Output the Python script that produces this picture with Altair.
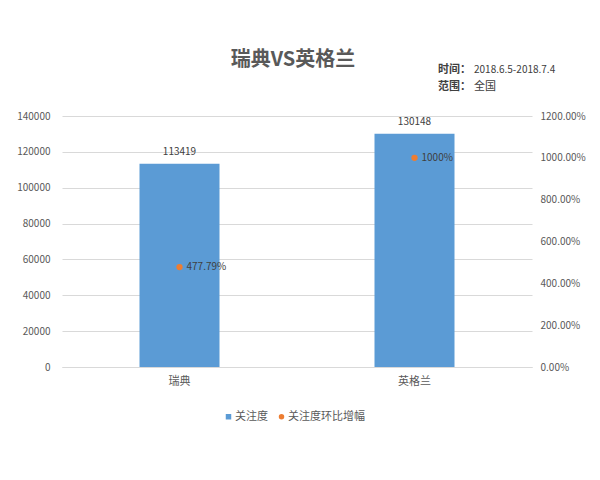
import altair as alt
import pandas as pd

countries = ["瑞典", "英格兰"]
attention = [113419, 130148]
growth = [4.7779, 10.0]
growth_labels = ["477.79%", "1000%"]
series_names = ["关注度", "关注度环比增幅"]

FONT = "Noto Sans CJK SC"
GRAY = "#595959"
BLUE = "#5B9BD5"
ORANGE = "#ED7D31"

df = pd.DataFrame({
    "country": countries,
    "value": attention,
    "pct": growth,
    "pct_label": growth_labels,
    "series": [series_names[1]] * len(countries),
})

x_enc = alt.X(
    "country:N", sort=countries, title=None,
    scale=alt.Scale(paddingInner=0, paddingOuter=0),
    axis=alt.Axis(labelAngle=0, ticks=False, domainColor="#D9D9D9", labelPadding=8,
                  labelFontSize=11, labelColor=GRAY, labelFont=FONT),
)

y_left = alt.Y(
    "value:Q", title=None,
    scale=alt.Scale(domain=[0, 140000]),
    axis=alt.Axis(values=list(range(0, 140001, 20000)), format="d", ticks=False, domain=False,
                  gridColor="#D9D9D9", labelPadding=12, labelFontSize=10,
                  labelColor=GRAY, labelFont=FONT),
)

base = alt.Chart(df)

bars = base.mark_bar(size=80, color=BLUE).encode(x=x_enc, y=y_left)
bar_text = base.mark_text(dy=-12, fontSize=10, font=FONT, color="#404040").encode(
    x=x_enc, y=y_left, text=alt.Text("value:Q", format="d"))

left_layer = alt.layer(bars, bar_text)

y_right = alt.Y(
    "pct:Q", title=None,
    scale=alt.Scale(domain=[0, 12]),
    axis=alt.Axis(orient="right", values=[0, 2, 4, 6, 8, 10, 12], format=".2%", ticks=False,
                  domain=False, grid=False, labelPadding=8, labelFontSize=10,
                  labelColor=GRAY, labelFont=FONT),
)

points = base.mark_point(filled=True, opacity=1, size=40).encode(
    x=x_enc, y=y_right,
    color=alt.Color("series:N", scale=alt.Scale(domain=series_names, range=[BLUE, ORANGE]),
                    legend=alt.Legend(title=None, orient="none", direction="horizontal",
                                      legendX=161, legendY=295, labelFont=FONT,
                                      labelFontSize=11, labelColor=GRAY, symbolSize=30,
                                      columnPadding=8, labelOffset=1)),
    shape=alt.Shape("series:N", scale=alt.Scale(domain=series_names, range=["square", "circle"])),
)
point_text = base.mark_text(align="left", dx=7, fontSize=10, font=FONT, color="#404040").encode(
    x=x_enc, y=y_right, text="pct_label:N")

right_layer = alt.layer(points, point_text)

ann = alt.Chart(pd.DataFrame({"a": [0]}))
title = ann.mark_text(text="瑞典VS英格兰", fontSize=20, fontWeight="bold", font=FONT,
                      color=GRAY, align="center", baseline="middle").encode(
    x=alt.value(231), y=alt.value(-56))
t1 = ann.mark_text(text="时间：", fontSize=11, fontWeight="bold", font=FONT, color="#404040",
                   align="left", baseline="middle").encode(x=alt.value(376), y=alt.value(-46))
t2 = ann.mark_text(text="2018.6.5-2018.7.4", fontSize=10, font=FONT, color="#404040",
                   align="left", baseline="middle").encode(x=alt.value(412), y=alt.value(-46))
t3 = ann.mark_text(text="范围：", fontSize=11, fontWeight="bold", font=FONT, color="#404040",
                   align="left", baseline="middle").encode(x=alt.value(376), y=alt.value(-29))
t4 = ann.mark_text(text="全国", fontSize=11, font=FONT, color="#404040",
                   align="left", baseline="middle").encode(x=alt.value(412), y=alt.value(-29))

chart = alt.layer(left_layer, right_layer, title, t1, t2, t3, t4).resolve_scale(
    y="independent"
).properties(
    width=470, height=251,
    autosize=alt.AutoSizeParams(type="none"),
    padding={"left": 54, "top": 108, "right": 60, "bottom": 105},
).configure_view(stroke=None)

chart.save("out.html", embed_options={"renderer": "svg", "actions": False})
